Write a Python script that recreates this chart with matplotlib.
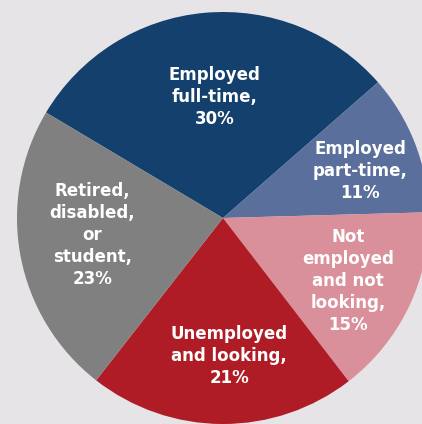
import matplotlib.pyplot as plt
import numpy as np

# Labour force status shares (percent)
labels = ["Employed\nfull-time,\n30%",
          "Employed\npart-time,\n11%",
          "Not\nemployed\nand not\nlooking,\n15%",
          "Unemployed\nand looking,\n21%",
          "Retired,\ndisabled,\nor\nstudent,\n23%"]
shares = [30, 11, 15, 21, 23]
colours = ["#13406d", "#5a6f9b", "#da909b", "#af1c25", "#808080"]

# text placement: fraction of radius, and a small turn (deg) off the wedge middle
label_dist = [0.59, 0.705, 0.68, 0.67, 0.64]
label_turn = [-1.2, -2.6, -1.3, 2.7, -3.2]

bg = "#e6e4e6"
fig = plt.figure(figsize=(4.22, 4.24), dpi=100, facecolor=bg)
ax = fig.add_axes([0, 0, 1, 1])
ax.set_facecolor(bg)

cx, cy, r = 223, 206, 206
wedges, _ = ax.pie(shares, colors=colours, startangle=149.2, counterclock=False,
                   center=(cx, cy), radius=r, frame=True,
                   wedgeprops=dict(linewidth=0))

for w, txt, d, t in zip(wedges, labels, label_dist, label_turn):
    mid = np.deg2rad((w.theta1 + w.theta2) / 2 + t)
    x = cx + d * r * np.cos(mid)
    y = cy + d * r * np.sin(mid)
    ax.text(x, y, txt, ha="center", va="center", color="white",
            fontsize=12, fontweight="bold", family="DejaVu Sans",
            linespacing=1.28)

ax.set_xlim(0, 422)
ax.set_ylim(0, 424)
ax.set_aspect("equal")
ax.axis("off")

fig.savefig("out.png", dpi=100, facecolor=bg)
